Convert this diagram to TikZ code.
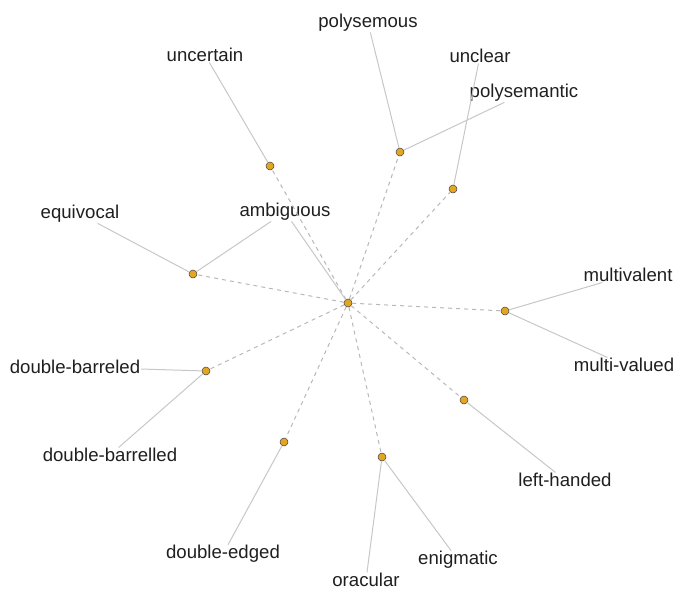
\documentclass[tikz,border=0pt]{standalone}
\usepackage{xcolor}
\usepackage{fontspec}
\setmainfont{Liberation Sans}
\usetikzlibrary{positioning}
\definecolor{gold}{HTML}{E2A623}

\begin{document}
\begin{tikzpicture}[
  x=1pt,y=-1pt,
  dot/.style={circle,draw=black!75,fill=gold,line width=0.5pt,
              minimum size=8pt,inner sep=0pt},
  word/.style={inner sep=0.5pt,text=black!88,
               font=\fontsize{18.6}{20}\selectfont},
  link/.style={draw=black!22,line width=1pt},
  hop/.style ={draw=black!28,line width=1pt,dash pattern=on 4pt off 4pt}]
  \useasboundingbox (0,0) rectangle (677,590);
  % hubs
  \node[dot] (c)   at (348,303) {};
  \node[dot] (unc) at (270,166) {};
  \node[dot] (pol) at (400,152) {};
  \node[dot] (ucl) at (453,189) {};
  \node[dot] (equ) at (193,274) {};
  \node[dot] (mul) at (505,311) {};
  \node[dot] (dbl) at (206,371) {};
  \node[dot] (lft) at (464,400) {};
  \node[dot] (edg) at (284,442) {};
  \node[dot] (ora) at (382,457) {};
  % words
  \node[word] (wunc) at (205,55)  {uncertain};
  \node[word] (wpol) at (368,23)  {polysemous};
  \node[word] (wucl) at (480,56)  {unclear};
  \node[word] (wpsm) at (524,93)  {polysemantic};
  \node[word] (wequ) at (80,214)  {equivocal};
  \node[word] (wamb) at (285,212) {ambiguous};
  \node[word] (wmvl) at (628,275) {multivalent};
  \node[word] (wmvd) at (624,365) {multi-valued};
  \node[word] (wdb1) at (75,367)  {double-barreled};
  \node[word] (wdb2) at (110,455) {double-barrelled};
  \node[word] (wlft) at (565,480) {left-handed};
  \node[word] (wedg) at (223,554) {double-edged};
  \node[word] (wora) at (366,580) {oracular};
  \node[word] (weni) at (458,560) {enigmatic};
  % spokes
  \foreach \h in {unc,pol,ucl,equ,mul,dbl,lft,edg,ora}
    \draw[hop] (c) -- (\h);
  \draw[link] (unc) -- (wunc);
  \draw[link] (pol) -- (wpol); \draw[link] (pol) -- (wpsm);
  \draw[link] (ucl) -- (wucl);
  \draw[link] (equ) -- (wequ); \draw[link] (equ) -- (wamb);
  \draw[link] (c) -- (wamb);
  \draw[link] (mul) -- (wmvl); \draw[link] (mul) -- (wmvd);
  \draw[link] (dbl) -- (wdb1); \draw[link] (dbl) -- (wdb2);
  \draw[link] (lft) -- (wlft);
  \draw[link] (edg) -- (wedg);
  \draw[link] (ora) -- (wora); \draw[link] (ora) -- (weni);
\end{tikzpicture}
\end{document}
